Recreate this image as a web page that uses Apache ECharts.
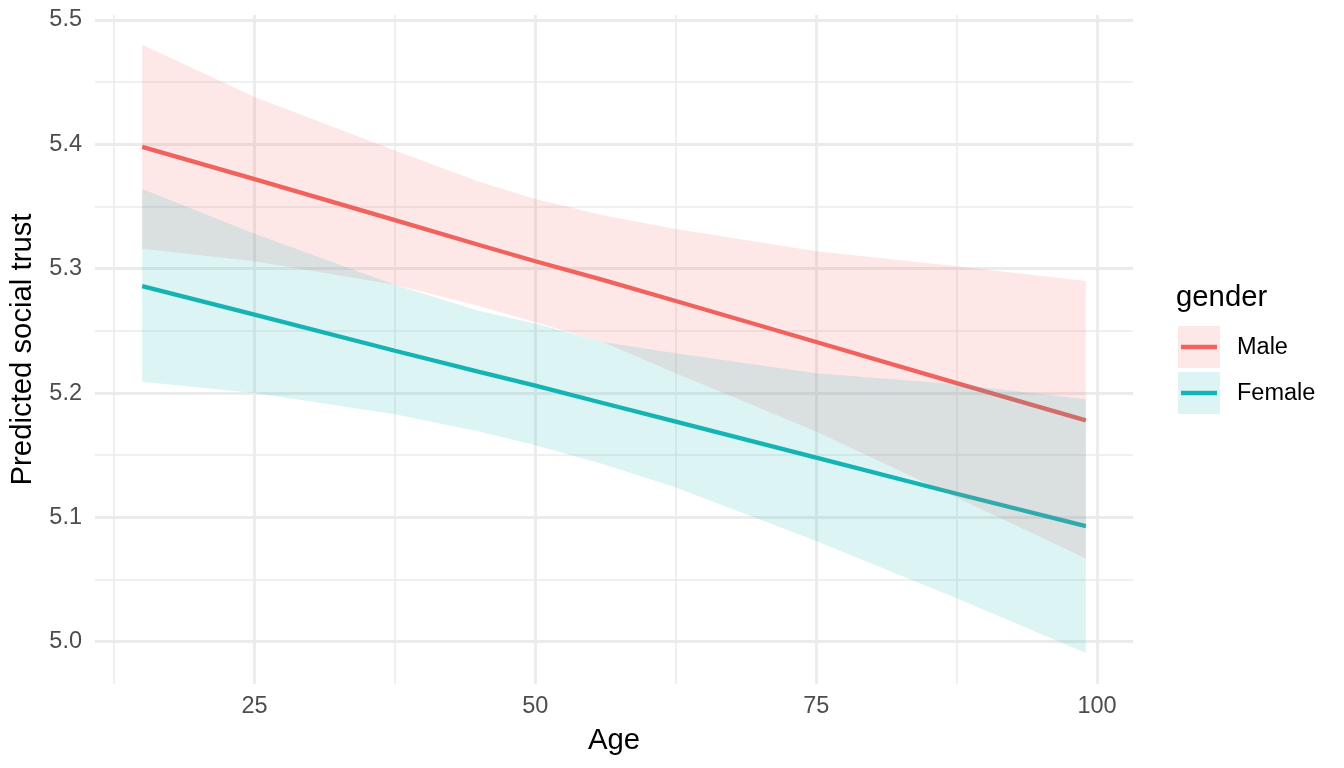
<!DOCTYPE html>
<html><head><meta charset="utf-8">
<script src="https://cdn.jsdelivr.net/npm/echarts@6/dist/echarts.min.js"></script>
<style>html,body{margin:0;padding:0;background:#fff}#c{width:1344px;height:768px}</style>
</head><body><div id="c"></div>
<script>
// ---- data ----
const ages        = [15, 25, 37.5, 45, 50, 56, 62.5, 75, 87.5, 99];
const maleFit     = [5.398, 5.372, 5.339, 5.319, 5.306, 5.291, 5.274, 5.241, 5.208, 5.178];
const maleUpper   = [5.480, 5.438, 5.395, 5.370, 5.356, 5.343, 5.332, 5.314, 5.302, 5.290];
const maleLower   = [5.316, 5.306, 5.287, 5.270, 5.257, 5.241, 5.216, 5.169, 5.116, 5.067];
const femaleFit   = [5.286, 5.263, 5.234, 5.217, 5.206, 5.192, 5.177, 5.148, 5.119, 5.093];
const femaleUpper = [5.364, 5.328, 5.287, 5.266, 5.256, 5.241, 5.232, 5.216, 5.207, 5.195];
const femaleLower = [5.209, 5.200, 5.183, 5.169, 5.158, 5.143, 5.124, 5.081, 5.035, 4.991];
const groups      = ['Male', 'Female'];
const xMajorTicks = [25, 50, 75, 100];
const xMinorTicks = [12.5, 37.5, 62.5, 87.5];
const yMajorTicks = [5.0, 5.1, 5.2, 5.3, 5.4, 5.5];
const yMinorTicks = [5.05, 5.15, 5.25, 5.35, 5.45];

// ---- styles ----
const MALE = '#F3625C', FEMALE = '#14B4B5';
const MALE_FILL = 'rgba(243,98,92,0.15)', FEMALE_FILL = 'rgba(20,180,181,0.15)';
const GRID = '#EBEBEB';
const FONT = '"Liberation Sans", Arial, Helvetica, sans-serif';
const X_MIN = 10.8, X_MAX = 103.2, Y_MIN = 4.966, Y_MAX = 5.504;

const pairs = ys => ages.map((a, i) => [a, ys[i]]);

function lineSeries(name, ys, color) {
  return { name, type: 'line', data: pairs(ys), symbol: 'none', z: 2, silent: true,
    lineStyle: { color, width: 4.3, cap: 'butt' }, itemStyle: { color } };
}
function bandSeries(name, up, lo, fill, z) {
  return {
    name: name + ' band', type: 'custom', z, silent: true,
    data: [[ages[0], up[0]]],
    renderItem: (params, api) => {
      const top = ages.map((a, i) => api.coord([a, up[i]]));
      const bot = ages.map((a, i) => api.coord([a, lo[i]])).reverse();
      return { type: 'polygon', shape: { points: top.concat(bot) }, style: { fill } };
    }
  };
}

const chart = echarts.init(document.getElementById('c'), null, { renderer: 'canvas' });
const legendTop = [326, 372];
const legendColors = [MALE, FEMALE], legendFills = [MALE_FILL, FEMALE_FILL];
const graphic = [{ type: 'text', left: 1176, top: 283, style: { text: 'gender', font: '29.3px ' + FONT, fill: '#000' } }];
groups.forEach((g, i) => {
  graphic.push({ type: 'rect', shape: { x: 1178, y: legendTop[i], width: 42, height: 42 }, style: { fill: legendFills[i] } });
  graphic.push({ type: 'line', shape: { x1: 1181, y1: legendTop[i] + 21, x2: 1217, y2: legendTop[i] + 21 }, style: { stroke: legendColors[i], lineWidth: 4.3 } });
  graphic.push({ type: 'text', x: 1237, y: legendTop[i] + 22, style: { text: g, font: '23.5px ' + FONT, fill: '#000', verticalAlign: 'middle', textVerticalAlign: 'middle' } });
});

chart.setOption({
  animation: false,
  backgroundColor: '#fff',
  grid: { left: 95, top: 15, width: 1038, height: 669, containLabel: false },
  xAxis: [
    { type: 'value', min: X_MIN, max: X_MAX, position: 'bottom',
      axisLine: { show: false }, axisTick: { show: false, customValues: xMajorTicks },
      axisLabel: { customValues: xMajorTicks, fontSize: 23.5, color: '#4D4D4D', margin: 11, fontFamily: FONT },
      splitLine: { show: true, lineStyle: { color: GRID, width: 2.8 } },
      name: 'Age', nameLocation: 'middle', nameGap: 42,
      nameTextStyle: { fontSize: 29.3, color: '#000', fontFamily: FONT } },
    { type: 'value', min: X_MIN, max: X_MAX, position: 'bottom',
      axisLine: { show: false }, axisTick: { show: false, customValues: xMinorTicks },
      axisLabel: { show: false }, splitLine: { show: true, lineStyle: { color: GRID, width: 1.5 } } }
  ],
  yAxis: [
    { type: 'value', min: Y_MIN, max: Y_MAX, position: 'left',
      axisLine: { show: false }, axisTick: { show: false, customValues: yMajorTicks },
      axisLabel: { customValues: yMajorTicks, fontSize: 23.5, color: '#4D4D4D', margin: 13, fontFamily: FONT,
        formatter: v => v.toFixed(1) },
      splitLine: { show: true, lineStyle: { color: GRID, width: 2.8 } },
      name: 'Predicted social trust', nameLocation: 'middle', nameGap: 58, nameRotate: 90,
      nameTextStyle: { fontSize: 29.3, color: '#000', fontFamily: FONT } },
    { type: 'value', min: Y_MIN, max: Y_MAX, position: 'left',
      axisLine: { show: false }, axisTick: { show: false, customValues: yMinorTicks },
      axisLabel: { show: false }, splitLine: { show: true, lineStyle: { color: GRID, width: 1.5 } } }
  ],
  series: [
    lineSeries('Male', maleFit, MALE),
    lineSeries('Female', femaleFit, FEMALE),
    bandSeries('Male', maleUpper, maleLower, MALE_FILL, 3),
    bandSeries('Female', femaleUpper, femaleLower, FEMALE_FILL, 4)
  ],
  graphic
});
</script></body></html>
